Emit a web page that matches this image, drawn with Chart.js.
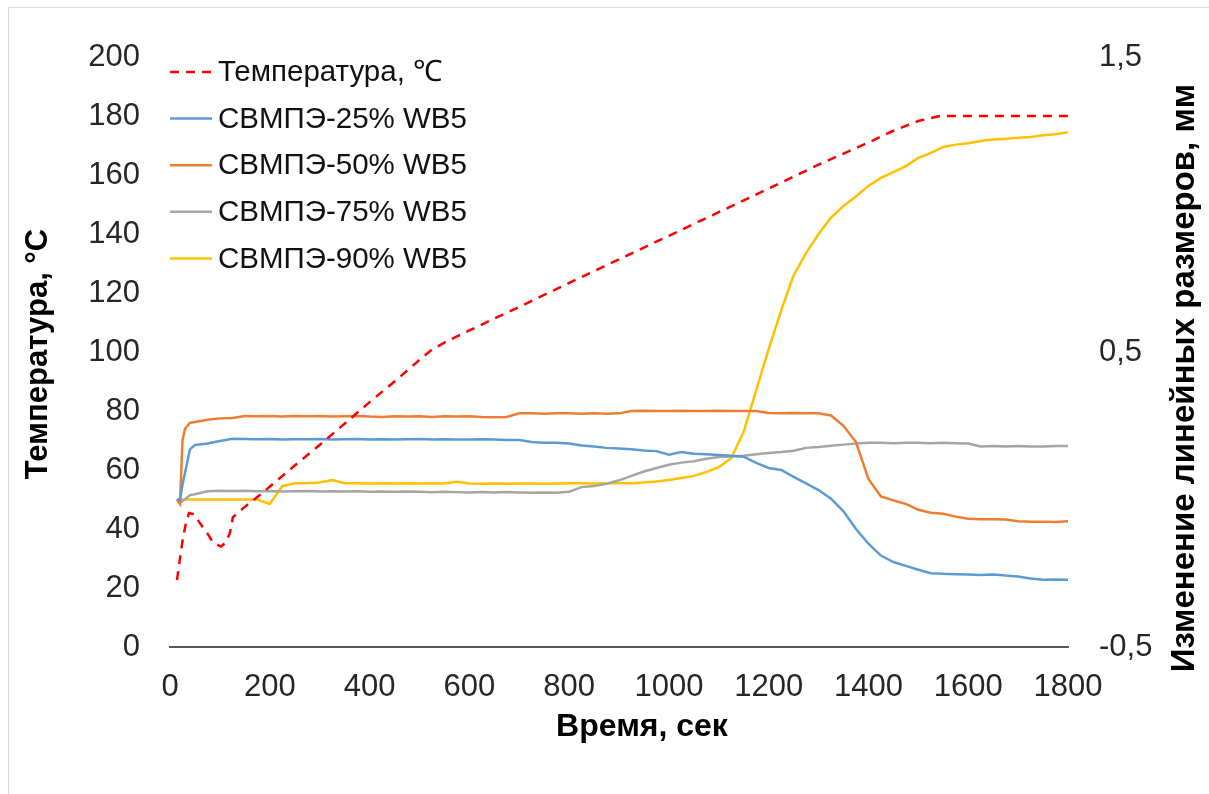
<!DOCTYPE html>
<html>
<head>
<meta charset="utf-8">
<script src="https://cdn.jsdelivr.net/npm/chart.js@4.4.1/dist/chart.umd.min.js"></script>
<style>
  html, body { margin: 0; padding: 0; background: #fff; overflow: hidden; }
  canvas { display: block; }
</style>
</head>
<body>
<canvas id="chart" width="1209" height="794"></canvas>
<script>
// время, сек (общая шкала для образцов)
const matTime = [
  14, 20, 25, 30, 40, 50, 75, 100, 125, 150,
  175, 200, 225, 250, 275, 300, 325, 350, 375, 400,
  425, 450, 475, 500, 525, 550, 575, 600, 625, 650,
  675, 700, 725, 750, 775, 800, 825, 850, 875, 900,
  925, 950, 975, 1000, 1025, 1050, 1075, 1100, 1125, 1150,
  1175, 1200, 1225, 1250, 1275, 1300, 1325, 1350, 1375, 1400,
  1425, 1450, 1475, 1500, 1525, 1550, 1575, 1600, 1625, 1650,
  1675, 1700, 1725, 1750, 1775, 1800
];

// изменение линейных размеров, мм
const wb25 = [
  0.000, 0.000, 0.050, 0.090, 0.170, 0.185, 0.190, 0.198, 0.206, 0.205,
  0.204, 0.205, 0.203, 0.204, 0.204, 0.205, 0.203, 0.204, 0.205, 0.203,
  0.204, 0.203, 0.204, 0.205, 0.203, 0.204, 0.203, 0.203, 0.204, 0.203,
  0.202, 0.202, 0.195, 0.192, 0.192, 0.190, 0.183, 0.180, 0.175, 0.173,
  0.170, 0.166, 0.164, 0.152, 0.161, 0.155, 0.153, 0.151, 0.148, 0.145,
  0.124, 0.107, 0.100, 0.077, 0.055, 0.032, 0.003, -0.040, -0.100, -0.150,
  -0.190, -0.212, -0.225, -0.238, -0.250, -0.252, -0.253, -0.254, -0.256, -0.254,
  -0.258, -0.261, -0.268, -0.272, -0.271, -0.272
];
const wb50 = [
  0.000, -0.015, 0.200, 0.240, 0.260, 0.263, 0.270, 0.275, 0.276, 0.283,
  0.282, 0.283, 0.281, 0.283, 0.282, 0.283, 0.281, 0.282, 0.283, 0.281,
  0.280, 0.282, 0.281, 0.282, 0.280, 0.282, 0.281, 0.282, 0.280, 0.279,
  0.280, 0.292, 0.292, 0.291, 0.292, 0.292, 0.291, 0.292, 0.291, 0.292,
  0.300, 0.301, 0.300, 0.300, 0.301, 0.300, 0.300, 0.301, 0.300, 0.300,
  0.300, 0.293, 0.292, 0.293, 0.292, 0.292, 0.285, 0.250, 0.195, 0.070,
  0.010, -0.003, -0.015, -0.035, -0.045, -0.048, -0.058, -0.065, -0.067, -0.067,
  -0.068, -0.074, -0.075, -0.075, -0.076, -0.074
];
const wb75 = [
  0.000, -0.012, -0.005, 0.000, 0.015, 0.018, 0.028, 0.030, 0.029, 0.030,
  0.028, 0.029, 0.027, 0.028, 0.029, 0.027, 0.028, 0.027, 0.028, 0.026,
  0.027, 0.026, 0.027, 0.026, 0.025, 0.026, 0.025, 0.024, 0.025, 0.024,
  0.025, 0.024, 0.023, 0.024, 0.023, 0.026, 0.042, 0.046, 0.053, 0.065,
  0.080, 0.095, 0.107, 0.118, 0.125, 0.130, 0.138, 0.144, 0.146, 0.148,
  0.153, 0.158, 0.161, 0.165, 0.175, 0.178, 0.182, 0.186, 0.190, 0.192,
  0.192, 0.191, 0.192, 0.192, 0.191, 0.192, 0.191, 0.190, 0.180, 0.181,
  0.180, 0.181, 0.180, 0.180, 0.181, 0.181
];
const wb90 = [
  0.000, 0.000, 0.000, 0.000, 0.000, 0.000, 0.000, 0.000, 0.000, 0.000,
  0.000, -0.015, 0.045, 0.055, 0.055, 0.058, 0.066, 0.055, 0.055, 0.054,
  0.055, 0.054, 0.055, 0.054, 0.055, 0.054, 0.060, 0.054, 0.053, 0.054,
  0.053, 0.054, 0.054, 0.053, 0.054, 0.055, 0.055, 0.054, 0.055, 0.055,
  0.055, 0.058, 0.061, 0.066, 0.073, 0.080, 0.093, 0.110, 0.140, 0.230,
  0.370, 0.510, 0.640, 0.760, 0.835, 0.900, 0.956, 0.995, 1.027, 1.063,
  1.090, 1.110, 1.130, 1.158, 1.175, 1.195, 1.203, 1.208, 1.215, 1.220,
  1.223, 1.226, 1.229, 1.235, 1.238, 1.245
];

// температура, °C
const tempTime = [
  14, 20, 26, 32, 38, 48, 60, 75, 86, 102, 112, 120, 126, 150, 180,
  250, 300, 361, 400, 450, 500, 525, 550, 600, 700, 800, 900, 1000,
  1100, 1200, 1300, 1360, 1400, 1450, 1500, 1543, 1600, 1700, 1800
];
const temp = [
  22.7, 30, 37, 42, 45.4, 45, 42, 38.5, 35.5, 34, 35.5, 38.6, 44, 47.5, 51.5,
  61.5, 68.5, 77.3, 83, 90, 97.3, 100.8, 103.2, 107.3, 115.3, 123.4, 131.4, 139.4,
  147.4, 155.4, 163.5, 168, 171, 175, 178.3, 180, 180, 180, 180
];

const xTicks = [0, 200, 400, 600, 800, 1000, 1200, 1400, 1600, 1800];
const tempTicks = [0, 20, 40, 60, 80, 100, 120, 140, 160, 180, 200];
const sizeTicks = [-0.5, 0.5, 1.5];

const xTitle = 'Время, сек';
const tempTitle = 'Температура, °C';
const sizeTitle = 'Изменение линейных размеров, мм';

const toPoints = (xs, ys) => xs.map((x, i) => ({ x: x, y: ys[i] }));

const FONT = '"Liberation Sans", Arial, sans-serif';
Chart.defaults.font.family = FONT;
Chart.defaults.color = '#262626';

// подписи осей, легенда, рамка
const extras = {
  id: 'extras',
  afterDraw(chart) {
    const c = chart.ctx;
    c.save();

    c.strokeStyle = '#d9d9d9';
    c.lineWidth = 1;
    c.beginPath();
    c.moveTo(8.5, 800);
    c.lineTo(8.5, 7.5);
    c.lineTo(1220, 7.5);
    c.stroke();

    c.fillStyle = '#000';
    c.textAlign = 'center';
    c.textBaseline = 'middle';
    c.font = 'bold 32px ' + FONT;
    c.fillText(xTitle, 642, 727);

    c.save();
    c.font = 'bold 31px ' + FONT;
    c.translate(38, 354);
    c.rotate(-Math.PI / 2);
    c.fillText(tempTitle, 0, 0);
    c.restore();

    c.save();
    c.font = 'bold 33px ' + FONT;
    c.translate(1185, 378);
    c.rotate(-Math.PI / 2);
    c.fillText(sizeTitle, 0, 0);
    c.restore();

    // легенда
    c.font = '29.5px ' + FONT;
    c.textAlign = 'left';
    chart.data.datasets.forEach((ds, i) => {
      const y = 72 + i * 46.6;
      c.strokeStyle = ds.borderColor;
      c.lineWidth = ds.borderWidth;
      c.setLineDash(ds.borderDash || []);
      c.beginPath();
      c.moveTo(170, y);
      c.lineTo(212, y);
      c.stroke();
      c.setLineDash([]);
      c.fillStyle = '#111';
      c.fillText(ds.label, 218, y + 1);
    });

    c.restore();
  }
};

const ctx = document.getElementById('chart').getContext('2d');
new Chart(ctx, {
  type: 'line',
  data: {
    datasets: [
      {
        label: 'Температура, ℃',
        data: toPoints(tempTime, temp),
        borderColor: '#ff0000',
        borderWidth: 2.5,
        borderDash: [9, 7],
        yAxisID: 'y'
      },
      {
        label: 'СВМПЭ-25% WB5',
        data: toPoints(matTime, wb25),
        borderColor: '#5b9bd5',
        borderWidth: 2.5,
        yAxisID: 'y2'
      },
      {
        label: 'СВМПЭ-50% WB5',
        data: toPoints(matTime, wb50),
        borderColor: '#ed7d31',
        borderWidth: 2.5,
        yAxisID: 'y2'
      },
      {
        label: 'СВМПЭ-75% WB5',
        data: toPoints(matTime, wb75),
        borderColor: '#a5a5a5',
        borderWidth: 2.5,
        yAxisID: 'y2'
      },
      {
        label: 'СВМПЭ-90% WB5',
        data: toPoints(matTime, wb90),
        borderColor: '#ffc000',
        borderWidth: 2.5,
        yAxisID: 'y2'
      }
    ]
  },
  options: {
    responsive: false,
    animation: false,
    layout: { padding: { top: 57, left: 0, right: 0, bottom: 0 } },
    elements: {
      point: { radius: 0 },
      line: { tension: 0, fill: false }
    },
    plugins: {
      legend: { display: false },
      tooltip: { enabled: false },
      title: { display: false }
    },
    scales: {
      x: {
        type: 'linear',
        min: 0,
        max: 1800,
        afterFit: (s) => { s.height = 147; },
        afterBuildTicks: (s) => { s.ticks = xTicks.map((v) => ({ value: v })); },
        grid: { display: false, drawTicks: false },
        border: { display: true, color: '#595959', width: 2 },
        ticks: {
          padding: 22,
          font: { size: 31 },
          color: '#262626',
          callback: (v) => String(v)
        }
      },
      y: {
        position: 'left',
        min: 0,
        max: 200,
        afterFit: (s) => { s.width = 170; },
        afterBuildTicks: (s) => { s.ticks = tempTicks.map((v) => ({ value: v })); },
        grid: { display: false, drawTicks: false },
        border: { display: false },
        ticks: {
          padding: 30,
          font: { size: 31 },
          color: '#262626',
          callback: (v) => String(v)
        }
      },
      y2: {
        position: 'right',
        min: -0.5,
        max: 1.5,
        afterFit: (s) => { s.width = 141; },
        afterBuildTicks: (s) => { s.ticks = sizeTicks.map((v) => ({ value: v })); },
        grid: { display: false, drawTicks: false },
        border: { display: false },
        ticks: {
          padding: 31,
          font: { size: 31 },
          color: '#262626',
          callback: (v) => v.toFixed(1).replace('.', ',')
        }
      }
    }
  },
  plugins: [extras]
});
</script>
</body>
</html>
